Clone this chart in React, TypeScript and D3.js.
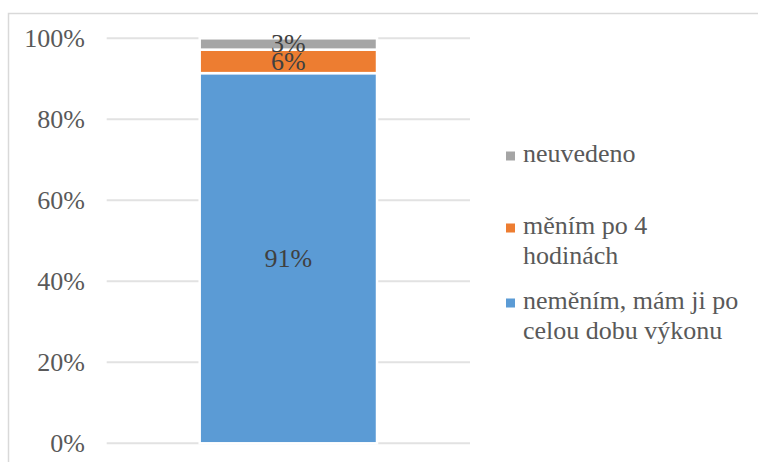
import React from "react";
import * as d3 from "d3";

const categories = ["Q"];
const seriesNames = ["neměním, mám ji po celou dobu výkonu", "měním po 4 hodinách", "neuvedeno"];
const seriesLegendLines = [["neměním, mám ji po", "celou dobu výkonu"], ["měním po 4", "hodinách"], ["neuvedeno"]];
const seriesValues = [0.914, 0.058, 0.028];
const seriesColors = ["#5b9bd5", "#ed7d31", "#a5a5a5"];
const yTicks = [0, 0.2, 0.4, 0.6, 0.8, 1.0];

const W = 758;
const H = 462;
const ts: React.CSSProperties = { fontFamily: '"Liberation Serif"' };

export default function App() {
  const x = d3.scaleBand<string>().domain(categories).range([106.7, 470]).padding(0.344);
  const y = d3.scaleLinear().domain([0, 1]).range([443.3, 38.3]);
  const fmt = d3.format(".0%");

  let cum = 0;
  const segs = seriesValues.map((v, i) => {
    const y0 = cum;
    cum += v;
    return { i, v, y0, y1: cum };
  });

  const legendY = [303, 228, 156];

  return (
    <svg width={W} height={H} style={{ position: "fixed", left: 0, top: 0, background: "#fff" }}>
      <rect x={8.5} y={13.5} width={W + 20} height={H + 20} fill="#fff" stroke="#d9d9d9" strokeWidth={1.5} />
      {yTicks.map((t) => (
        <g key={t}>
          <line x1={106.7} x2={470} y1={y(t)} y2={y(t)} stroke="#e2e2e2" strokeWidth={2} />
          <text x={85} y={y(t) + 8.5} textAnchor="end" fontSize={26} fill="#595959" fontFamily="Liberation Serif" style={ts}>
            {fmt(t)}
          </text>
        </g>
      ))}
      {categories.map((c) =>
        segs.map((s) => (
          <rect
            key={c + s.i}
            x={x(c)!}
            width={x.bandwidth()}
            y={y(s.y1)}
            height={y(s.y0) - y(s.y1)}
            fill={seriesColors[s.i]}
            stroke="#fff"
            strokeWidth={2.5}
          />
        ))
      )}
      {categories.map((c) =>
        segs.map((s) => (
          <text
            key={"l" + c + s.i}
            x={x(c)! + x.bandwidth() / 2}
            y={(y(s.y0) + y(s.y1)) / 2 + 8.5}
            textAnchor="middle"
            fontSize={26}
            fill="#404040"
            fontFamily="Liberation Serif"
            style={ts}
          >
            {fmt(s.v)}
          </text>
        ))
      )}
      {seriesNames.map((name, i) => (
        <g key={name}>
          <rect x={506} y={legendY[i] - 4.5} width={9} height={9} fill={seriesColors[i]} />
          <text x={523} y={legendY[i] + 6} fontSize={26} fill="#595959" fontFamily="Liberation Serif" style={ts}>
            {seriesLegendLines[i].map((ln, j) => (
              <tspan key={j} x={523} dy={j === 0 ? 0 : 29.5}>
                {ln}
              </tspan>
            ))}
          </text>
        </g>
      ))}
    </svg>
  );
}
